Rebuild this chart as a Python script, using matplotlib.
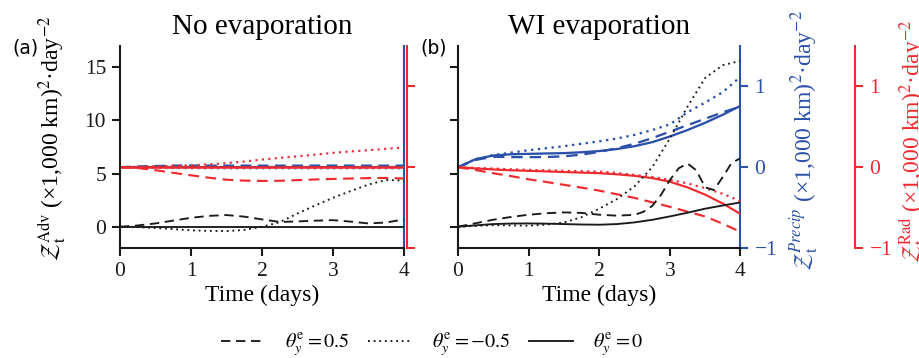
import matplotlib
matplotlib.use("Agg")
import matplotlib.pyplot as plt
from matplotlib.lines import Line2D

plt.rcParams['font.family'] = ['Liberation Serif', 'DejaVu Serif']
plt.rcParams['mathtext.fontset'] = 'stix'

BLUE = '#2a50a8'
RED = '#ee2a2f'
BLACK = '#1a1a1a'

# ---------------- data ----------------
t = [0, 0.25, 0.5, 0.75, 1, 1.25, 1.5, 1.75, 2, 2.25, 2.5, 2.75, 3, 3.25, 3.5, 3.75, 4]

# Panel (a): No evaporation
adv_dash_a = [0, 0.12, 0.31, 0.58, 0.84, 1.02, 1.1, 0.95, 0.69, 0.45, 0.5, 0.57, 0.62, 0.48, 0.31, 0.4, 0.69]
adv_dot_a = [0, -0.04, -0.12, -0.22, -0.34, -0.39, -0.41, -0.3, 0.0, 0.42, 1.25, 2.0, 2.72, 3.36, 3.97, 4.4, 4.34]
adv_solid_a = [0] * 17
rad_dash_a = [0, -0.01, -0.037, -0.07, -0.10, -0.13, -0.155, -0.166, -0.17, -0.168, -0.16, -0.152, -0.145, -0.14, -0.135, -0.133, -0.14]
rad_dot_a = [0, 0.005, 0.012, 0.018, 0.025, 0.035, 0.05, 0.07, 0.095, 0.115, 0.135, 0.155, 0.178, 0.195, 0.21, 0.228, 0.244]
rad_solid_a = [0] * 17
prec_dash_a = [0, 0.01, 0.015, 0.02, 0.02, 0.02, 0.02, 0.02, 0.02, 0.02, 0.02, 0.02, 0.02, 0.02, 0.02, 0.02, 0.02]
prec_dot_a = [0, -0.005, -0.01, -0.013, -0.015, -0.016, -0.017, -0.017, -0.017, -0.017, -0.017, -0.017, -0.017, -0.017, -0.017, -0.017, -0.017]
prec_solid_a = [0] * 17

# Panel (b): WI evaporation
t_dash_b = [0, 0.25, 0.5, 0.75, 1, 1.25, 1.5, 1.75, 2, 2.25, 2.5, 2.625, 2.75, 2.875,
            3, 3.125, 3.25, 3.375, 3.5, 3.625, 3.75, 3.875, 4]
adv_dash_b = [0, 0.33, 0.66, 0.92, 1.13, 1.27, 1.35, 1.3, 1.13, 1.04, 1.12, 1.4, 1.95, 3.0,
              4.4, 5.5, 5.95, 5.3, 3.7, 3.45, 4.7, 6.0, 6.45]
adv_dot_b = [0, 0.08, 0.15, 0.12, 0.1, 0.2, 0.4, 0.9, 1.7, 2.6, 3.8, 5.6, 8.3, 11.3, 14.0, 15.2, 15.6]
adv_solid_b = [0, 0.13, 0.25, 0.3, 0.31, 0.29, 0.25, 0.21, 0.19, 0.25, 0.41, 0.65, 0.97, 1.32, 1.7, 2.0, 2.29]
prec_dash_b = [0, 0.09, 0.13, 0.125, 0.124, 0.126, 0.135, 0.155, 0.19, 0.235, 0.29, 0.36, 0.44, 0.52, 0.6, 0.68, 0.75]
prec_dot_b = [0, 0.1, 0.15, 0.18, 0.21, 0.235, 0.26, 0.29, 0.32, 0.355, 0.4, 0.46, 0.53, 0.68, 0.8, 0.93, 1.12]
prec_solid_b = [0, 0.1, 0.145, 0.16, 0.165, 0.17, 0.174, 0.185, 0.2, 0.225, 0.26, 0.31, 0.38, 0.46, 0.55, 0.65, 0.76]
rad_dash_b = [0, -0.035, -0.075, -0.11, -0.15, -0.183, -0.218, -0.253, -0.29, -0.335, -0.38, -0.435, -0.49, -0.55, -0.61, -0.7, -0.80]
rad_dot_b = [0, -0.008, -0.016, -0.025, -0.033, -0.038, -0.044, -0.049, -0.054, -0.07, -0.095, -0.12, -0.157, -0.2, -0.26, -0.33, -0.42]
rad_solid_b = [0, -0.015, -0.028, -0.038, -0.045, -0.052, -0.06, -0.067, -0.074, -0.088, -0.107, -0.135, -0.18, -0.25, -0.34, -0.45, -0.58]

titles = ['No evaporation', 'WI evaporation']
panel_labels = ['(a)', '(b)']
xticks = [0, 1, 2, 3, 4]
left_ticks = [0, 5, 10, 15]
right_ticks = [-1, 0, 1]
legend_labels = [r'$\theta_y^{\mathrm{e}}=0.5$', r'$\theta_y^{\mathrm{e}}=-0.5$', r'$\theta_y^{\mathrm{e}}=0$']

# ---------------- figure ----------------
fig = plt.figure(figsize=(9.2, 3.58), dpi=100)
W, H = 920, 358
PX = 72 / 100  # points per pixel

def fa(x0, x1, y0, y1):
    return [x0 / W, 1 - y1 / H, (x1 - x0) / W, (y1 - y0) / H]

axa = fig.add_axes(fa(120, 404, 46, 248))
axb = fig.add_axes(fa(458, 740.5, 46, 248))

DASH = (0, (5, 3))
DOT = (0, (1, 2))
LW = 1.35

TICK_FS = 15.5
LAB_FS = 17
SPW = 1.5

def style_main(ax, labels_on):
    for s in ['top', 'right']:
        ax.spines[s].set_visible(False)
    for s in ['left', 'bottom']:
        ax.spines[s].set_linewidth(SPW)
        ax.spines[s].set_color(BLACK)
    ax.set_xlim(0, 4)
    ax.set_ylim(-2, 17)
    ax.set_xticks(xticks)
    ax.set_yticks(left_ticks)
    ax.tick_params(direction='out', length=6, width=SPW, labelsize=TICK_FS, pad=4, colors=BLACK)
    if not labels_on:
        ax.set_yticklabels([])
    ax.set_xlabel('Time (days)', fontsize=LAB_FS, labelpad=3)
    ax.patch.set_alpha(0)

def twin(ax, color, offset_px, ticks, labels):
    tw = ax.twinx()
    tw.set_ylim(-1, 1.5)
    for s in ['top', 'left', 'bottom']:
        tw.spines[s].set_visible(False)
    tw.spines['right'].set_color(color)
    tw.spines['right'].set_linewidth(SPW)
    tw.spines['right'].set_position(('outward', offset_px * PX))
    if ticks:
        tw.set_yticks(right_ticks)
        tw.tick_params(axis='y', direction='out', length=6, width=SPW, colors=color,
                       labelsize=TICK_FS, pad=4)
        if not labels:
            tw.set_yticklabels([])
    else:
        tw.set_yticks([])
    return tw

# ----- panel (a)
style_main(axa, True)
pa = twin(axa, BLUE, 0, False, False)
ra = twin(axa, RED, 3, True, False)
pa.plot(t, prec_solid_a, color=BLUE, lw=LW + 0.2, ls='-')
pa.plot(t, prec_dash_a, color=BLUE, lw=LW + 0.2, ls=DASH)
pa.plot(t, prec_dot_a, color=BLUE, lw=LW + 0.2, ls=DOT, alpha=0.6)
ra.plot(t, rad_dash_a, color=RED, lw=LW + 0.2, ls=DASH)
ra.plot(t, rad_dot_a, color=RED, lw=LW + 0.2, ls=DOT)
ra.plot(t, rad_solid_a, color=RED, lw=LW + 0.5, ls='-')
axa.set_zorder(3)
axa.plot(t, adv_solid_a, color=BLACK, lw=LW, ls='-')
axa.plot(t, adv_dash_a, color=BLACK, lw=LW, ls=DASH)
axa.plot(t, adv_dot_a, color=BLACK, lw=LW, ls=DOT)
axa.set_ylabel(r'$\mathcal{Z}_{\mathrm{t}}^{\mathrm{Adv}}$ (×1,000 km)$^{2}$·day$^{-2}$', fontsize=LAB_FS)
axa.yaxis.set_label_coords(-0.183, 0.545)
axa.set_title(titles[0], fontsize=21, pad=9)
fig.text(12 / W, 1 - 48 / H, panel_labels[0], fontsize=13.5, family='DejaVu Sans', va='center')

# ----- panel (b)
style_main(axb, False)
pb = twin(axb, BLUE, 0, True, True)
rb = twin(axb, RED, 115, True, True)
pb.plot(t, prec_solid_b, color=BLUE, lw=LW + 0.3, ls='-')
pb.plot(t, prec_dash_b, color=BLUE, lw=LW + 0.3, ls=DASH)
pb.plot(t, prec_dot_b, color=BLUE, lw=LW + 0.3, ls=DOT)
rb.plot(t, rad_solid_b, color=RED, lw=LW + 0.2, ls='-')
rb.plot(t, rad_dash_b, color=RED, lw=LW + 0.2, ls=DASH)
rb.plot(t, rad_dot_b, color=RED, lw=LW + 0.2, ls=DOT)
axb.set_zorder(3)
axb.plot(t, adv_solid_b, color=BLACK, lw=LW, ls='-')
axb.plot(t_dash_b, adv_dash_b, color=BLACK, lw=LW, ls=DASH)
axb.plot(t, adv_dot_b, color=BLACK, lw=LW, ls=DOT)
axb.set_title(titles[1], fontsize=21, pad=9)
fig.text(420 / W, 1 - 48 / H, panel_labels[1], fontsize=13.5, family='DejaVu Sans', va='center')

pb.set_ylabel(r'$\mathcal{Z}_{\mathrm{t}}^{Precip}$ (×1,000 km)$^{2}$·day$^{-2}$', fontsize=LAB_FS, color=BLUE)
pb.yaxis.set_label_coords(1.165, 0.53)
rb.set_ylabel(r'$\mathcal{Z}_{\mathrm{t}}^{\mathrm{Rad}}$ (×1,000 km)$^{2}$·day$^{-2}$', fontsize=LAB_FS, color=RED)
rb.yaxis.set_label_coords(1.554, 0.53)

# ----- legend
handles = [Line2D([], [], color=BLACK, lw=LW, ls=DASH),
           Line2D([], [], color=BLACK, lw=LW, ls=DOT),
           Line2D([], [], color=BLACK, lw=LW, ls='-')]
fig.legend(handles, legend_labels, loc='center', ncol=3, frameon=False,
           bbox_to_anchor=(432 / W, 1 - 345 / H), fontsize=14.5, handlelength=2.2,
           columnspacing=0.9, handletextpad=1.0)

fig.savefig('out.png', dpi=100)
